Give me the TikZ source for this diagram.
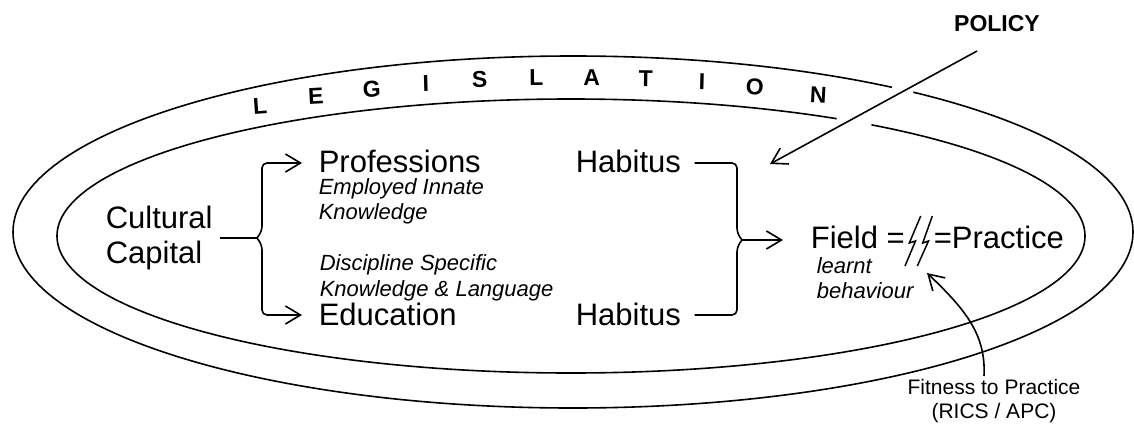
\documentclass[tikz,border=0pt]{standalone}
\usepackage{fontspec}
\setmainfont{Liberation Sans}
\usetikzlibrary{arrows.meta}
\begin{document}
\begin{tikzpicture}[x=1pt,y=-1pt,
  line width=1.6pt,
  big/.style={font=\fontsize{31}{35}\selectfont, inner sep=0pt, anchor=base west},
  note/.style={font=\fontsize{22}{25}\selectfont\itshape, inner sep=0pt, anchor=base west},
  letter/.style={font=\fontsize{23}{23}\selectfont\bfseries, inner sep=0pt},
  ring/.style={line width=1.6pt},
  link/.style={line width=1.6pt, rounded corners=5pt},
  arr/.style={line width=1.6pt, -{Straight Barb[length=15pt,width=18pt]}},
  bolt/.style={line width=1.5pt, line join=miter}]
\useasboundingbox (0,0) rectangle (1134,423);

% the two nested rings
\draw[ring] (573,232) ellipse [x radius=560pt, y radius=176pt];
\draw[ring] (571,236) ellipse [x radius=514pt, y radius=137pt];
% breaks in the rings where the policy arrow passes over
\fill[white] (902.5,90.8) circle [radius=11pt];
\fill[white] (854.2,121) circle [radius=17.7pt];

% letters set along the band between the rings, tilted slightly with it
\foreach \ch/\t [count=\i] in {L/125.5, E/118.5, G/111.9, I/105.8, S/99.9, L/93.8, A/87.9, T/82.1, I/76.0, O/70.1, N/62.7}
  \node[letter, rotate={0.35*atan2(-156.5*cos(\t), 537*sin(\t))}] (leg\i)
    at ({572+537*cos(\t)}, {234-156.5*sin(\t)}) {\ch};

% policy
\node[font=\fontsize{23}{23}\selectfont\bfseries, inner sep=0pt, anchor=base] (pol) at (997,31) {POLICY};
\coordinate (polTip) at (770,164);
\draw[arr] (pol.south) ++(-20,19) -- (polTip);

% left column
\node[big, align=left, anchor=west] (cc) at (105,238) {Cultural\\Capital};
\node[big] (prof) at (318,172) {Professions};
\node[note] (emp1) at (318,194) {Employed Innate};
\node[note] (emp2) at (318,219) {Knowledge};
\node[note] (dis1) at (319,270) {Discipline Specific};
\node[note] (dis2) at (319,296) {Knowledge \& Language};
\node[big] (edu) at (318,325) {Education};
\node[big] (hab1) at (575,172) {Habitus};
\node[big] (hab2) at (575,325) {Habitus};

% left brace with its two arrows
\coordinate (jL) at (257,238);
\coordinate (profIn) at ([xshift=-16pt,yshift=9pt]prof.base west);
\coordinate (eduIn) at ([xshift=-16pt,yshift=10pt]edu.base west);
\draw[link] ([xshift=7pt]cc.east) -- (jL);
\draw[link, arr] (jL) -- (262,231) -- (262,163) -- (profIn);
\draw[link, arr] (jL) -- (262,245) -- (262,315) -- (eduIn);

% right brace joining the two habitus lines
\coordinate (jR) at (742,240);
\draw[link] ([xshift=13pt,yshift=9pt]hab1.base east) -- (737,163) -- (737,233) -- (jR);
\draw[link] ([xshift=13pt,yshift=10pt]hab2.base east) -- (737,315) -- (737,247) -- (jR);

% field = practice
\node[big] (field) at (810,248) {Field =};
\node[big] (prac) at (933,248) {=Practice};
\coordinate (fieldIn) at ([xshift=-27pt,yshift=8pt]field.base west);
\draw[arr] (jR) -- (fieldIn);
\draw[bolt] (920.7,216) -- (909.3,243) -- (915.5,241) -- (905,266);
\draw[bolt] (932.3,216) -- (922.7,243) -- (928.5,241) -- (917.3,266);
\node[note] (learn1) at (816,273) {learnt};
\node[note] (learn2) at (816,298) {behaviour};

% fitness to practice
\node[font=\fontsize{21}{24}\selectfont, align=center, inner sep=0pt, anchor=north] (fit) at (994,378) {Fitness to Practice\\(RICS / APC)};
\coordinate (bTip) at (927,273);
\draw[arr] ([xshift=-10pt,yshift=2pt]fit.north) .. controls (986,335) and (966,310) .. (bTip);
\end{tikzpicture}
\end{document}
